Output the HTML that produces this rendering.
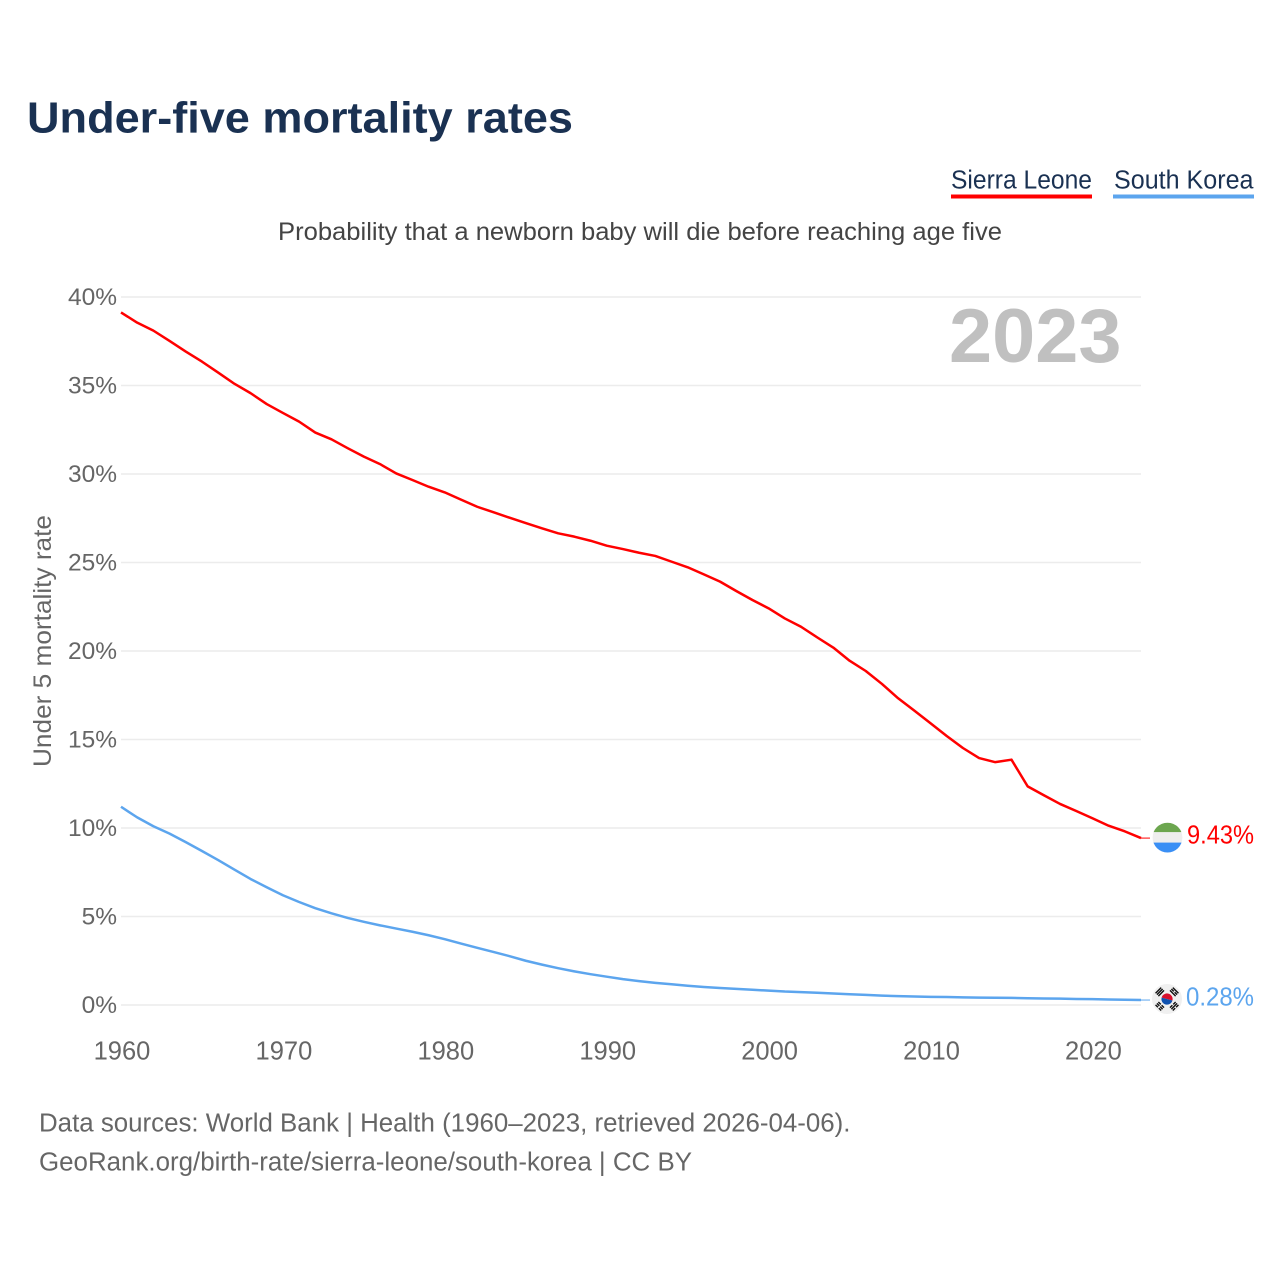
<!DOCTYPE html>
<html lang="en">
<head>
<meta charset="utf-8">
<title>Under-five mortality rates</title>
<style>
html,body{margin:0;padding:0;background:#fff;}
svg{display:block;font-family:"Liberation Sans",sans-serif;}
</style>
</head>
<body>
<svg id="chart" xmlns="http://www.w3.org/2000/svg" width="1280" height="1280" viewBox="0 0 1280 1280">
  <rect x="0" y="0" width="1280" height="1280" fill="#ffffff"/>
  <text x="27" y="132.5" font-size="44" font-weight="700" fill="#1a3152" textLength="546" lengthAdjust="spacingAndGlyphs">Under-five mortality rates</text>

  <g>
    <text x="951" y="188.5" font-size="25.5" fill="#1a3152" textLength="141" lengthAdjust="spacingAndGlyphs">Sierra Leone</text>
    <rect x="951" y="194.5" width="141" height="4" fill="#ff0000"/>
  </g>
  <g>
    <text x="1114" y="188.5" font-size="25.5" fill="#1a3152" textLength="139.5" lengthAdjust="spacingAndGlyphs">South Korea</text>
    <rect x="1113" y="194.5" width="141" height="4" fill="#5ca5ee"/>
  </g>

  <text x="278" y="240" font-size="25" fill="#444444" textLength="724" lengthAdjust="spacingAndGlyphs">Probability that a newborn baby will die before reaching age five</text>

  <g id="grid"></g>
  <g id="yticks"></g>
  <g id="xticks"></g>

  <text transform="translate(51 767) rotate(-90)" font-size="25" fill="#666666" textLength="252" lengthAdjust="spacingAndGlyphs">Under 5 mortality rate</text>
  <text x="949" y="362" font-size="76" font-weight="700" fill="#c0c0c0" textLength="172.5" lengthAdjust="spacingAndGlyphs">2023</text>

  <g id="series"></g>

  <g id="flag-sl">
    <clipPath id="clip-sl"><circle cx="0" cy="0" r="14.9"/></clipPath>
    <g clip-path="url(#clip-sl)">
      <rect x="-15" y="-15" width="30" height="30" fill="#eeeeee"/>
      <rect x="-15" y="-15" width="30" height="9.5" fill="#6ca64f"/>
      <rect x="-15" y="5" width="30" height="10" fill="#3a8ff5"/>
    </g>
  </g>
  <g id="flag-kr">
    <circle cx="0" cy="0" r="15" fill="#f0f0f0"/>
    <clipPath id="clip-kr"><circle cx="0" cy="0" r="5.6"/></clipPath>
    <g clip-path="url(#clip-kr)" transform="rotate(15)">
      <rect x="-6" y="-6" width="12" height="6" fill="#d8102c"/>
      <rect x="-6" y="0" width="12" height="6" fill="#0f52b0"/>
    </g>
    <g fill="#111111">
      <g transform="rotate(-45) translate(0 -10.5)"><rect x="-4" y="-2.4" width="8" height="1.4"/><rect x="-4" y="-0.4" width="8" height="1.4"/><rect x="-4" y="1.6" width="8" height="1.4"/></g>
      <g transform="rotate(45) translate(0 -10.5)"><rect x="-4" y="-2.4" width="8" height="1.4"/><rect x="-4" y="-0.4" width="3.4" height="1.4"/><rect x="0.6" y="-0.4" width="3.4" height="1.4"/><rect x="-4" y="1.6" width="8" height="1.4"/></g>
      <g transform="rotate(135) translate(0 -10.5)"><rect x="-4" y="-2.4" width="3.4" height="1.4"/><rect x="0.6" y="-2.4" width="3.4" height="1.4"/><rect x="-4" y="-0.4" width="8" height="1.4"/><rect x="-4" y="1.6" width="3.4" height="1.4"/><rect x="0.6" y="1.6" width="3.4" height="1.4"/></g>
      <g transform="rotate(225) translate(0 -10.5)"><rect x="-4" y="-2.4" width="3.4" height="1.4"/><rect x="0.6" y="-2.4" width="3.4" height="1.4"/><rect x="-4" y="-0.4" width="3.4" height="1.4"/><rect x="0.6" y="-0.4" width="3.4" height="1.4"/><rect x="-4" y="1.6" width="3.4" height="1.4"/><rect x="0.6" y="1.6" width="3.4" height="1.4"/></g>
    </g>
  </g>
  <text id="label-sl" x="1187" font-size="26" fill="#ff0000" textLength="67" lengthAdjust="spacingAndGlyphs">9.43%</text>
  <text id="label-kr" x="1186" font-size="26" fill="#5ca5ee" textLength="68" lengthAdjust="spacingAndGlyphs">0.28%</text>

  <text x="39" y="1131.5" font-size="25.5" fill="#666666" textLength="811.5" lengthAdjust="spacingAndGlyphs">Data sources: World Bank | Health (1960–2023, retrieved 2026-04-06).</text>
  <text x="39" y="1170.5" font-size="25.5" fill="#666666" textLength="653" lengthAdjust="spacingAndGlyphs">GeoRank.org/birth-rate/sierra-leone/south-korea | CC BY</text>
</svg>
<script>
const years = [1960,1961,1962,1963,1964,1965,1966,1967,1968,1969,1970,1971,1972,1973,1974,1975,1976,1977,1978,1979,1980,1981,1982,1983,1984,1985,1986,1987,1988,1989,1990,1991,1992,1993,1994,1995,1996,1997,1998,1999,2000,2001,2002,2003,2004,2005,2006,2007,2008,2009,2010,2011,2012,2013,2014,2015,2016,2017,2018,2019,2020,2021,2022,2023];
const sierraLeone = [39.13,38.55,38.1,37.52,36.92,36.35,35.73,35.1,34.57,33.95,33.45,32.96,32.34,31.96,31.46,30.98,30.56,30.03,29.66,29.28,28.96,28.55,28.15,27.84,27.53,27.23,26.93,26.65,26.46,26.23,25.95,25.76,25.55,25.37,25.05,24.73,24.33,23.92,23.39,22.88,22.41,21.84,21.37,20.77,20.19,19.45,18.87,18.14,17.33,16.63,15.92,15.2,14.52,13.95,13.72,13.86,12.35,11.85,11.36,10.96,10.55,10.13,9.81,9.43];
const southKorea = [11.2,10.6,10.1,9.68,9.2,8.7,8.19,7.65,7.12,6.65,6.2,5.82,5.47,5.18,4.92,4.7,4.5,4.32,4.14,3.94,3.72,3.47,3.23,3.0,2.76,2.5,2.28,2.08,1.9,1.74,1.6,1.46,1.35,1.25,1.17,1.09,1.02,0.96,0.91,0.86,0.81,0.76,0.73,0.69,0.65,0.61,0.57,0.53,0.5,0.48,0.46,0.45,0.43,0.42,0.41,0.4,0.38,0.37,0.36,0.34,0.33,0.31,0.3,0.28];
const yTickValues = [0,5,10,15,20,25,30,35,40];
const yTickLabels = ["0%","5%","10%","15%","20%","25%","30%","35%","40%"];
const xTickValues = [1960,1970,1980,1990,2000,2010,2020];
const xTickLabels = ["1960","1970","1980","1990","2000","2010","2020"];

const NS = "http://www.w3.org/2000/svg";
function xScale(year){ return 121 + (year - 1960) * (1020 / 63); }
function yScale(value){ return 1005 - value * 17.7; }
function make(tag, parentId, attrs, text){
  const el = document.createElementNS(NS, tag);
  for (const k in attrs) el.setAttribute(k, attrs[k]);
  if (text !== undefined) el.textContent = text;
  document.getElementById(parentId).appendChild(el);
  return el;
}

yTickValues.forEach(function(v, i){
  const line = make("line", "grid", {x1:121, x2:1141, y1:yScale(v), y2:yScale(v), stroke:"#ececec", "stroke-width":1.4});
  
  
  const label = make("text", "yticks", {x:117, y:yScale(v)+7.8, "text-anchor":"end", "font-size":24.5, fill:"#666666"}, yTickLabels[i]);
  
  
});

xTickValues.forEach(function(v, i){
  const label = make("text", "xticks", {x:xScale(v)+1, y:1059.5, "text-anchor":"middle", "font-size":25.5, fill:"#666666"}, xTickLabels[i]);
  
  
});

function pathFor(values){
  return values.map(function(v, i){ return (i ? "L" : "M") + xScale(years[i]).toFixed(2) + " " + yScale(v).toFixed(2); }).join(" ");
}
const slLine = make("path", "series", {d:pathFor(sierraLeone), fill:"none", stroke:"#ff0000", "stroke-width":2.5, "stroke-linejoin":"round"});


const krLine = make("path", "series", {d:pathFor(southKorea), fill:"none", stroke:"#5ca5ee", "stroke-width":2.5, "stroke-linejoin":"round"});



const slY = yScale(sierraLeone[sierraLeone.length - 1]);
const krY = yScale(southKorea[southKorea.length - 1]);
const xEnd = xScale(years[years.length - 1]);
const slConn = make("line", "series", {x1:xEnd, x2:xEnd+9, y1:slY, y2:slY, stroke:"#ff0000", "stroke-width":1});


const krConn = make("line", "series", {x1:xEnd, x2:xEnd+9, y1:krY, y2:krY, stroke:"#5ca5ee", "stroke-width":1});



document.getElementById("flag-sl").setAttribute("transform", "translate(1167.5 " + (slY - 0.5) + ")");
document.getElementById("flag-kr").setAttribute("transform", "translate(1167 " + (krY - 1) + ")");
document.getElementById("label-sl").setAttribute("y", slY + 5.5);
document.getElementById("label-kr").setAttribute("y", krY + 5.5);
</script>
</body>
</html>
